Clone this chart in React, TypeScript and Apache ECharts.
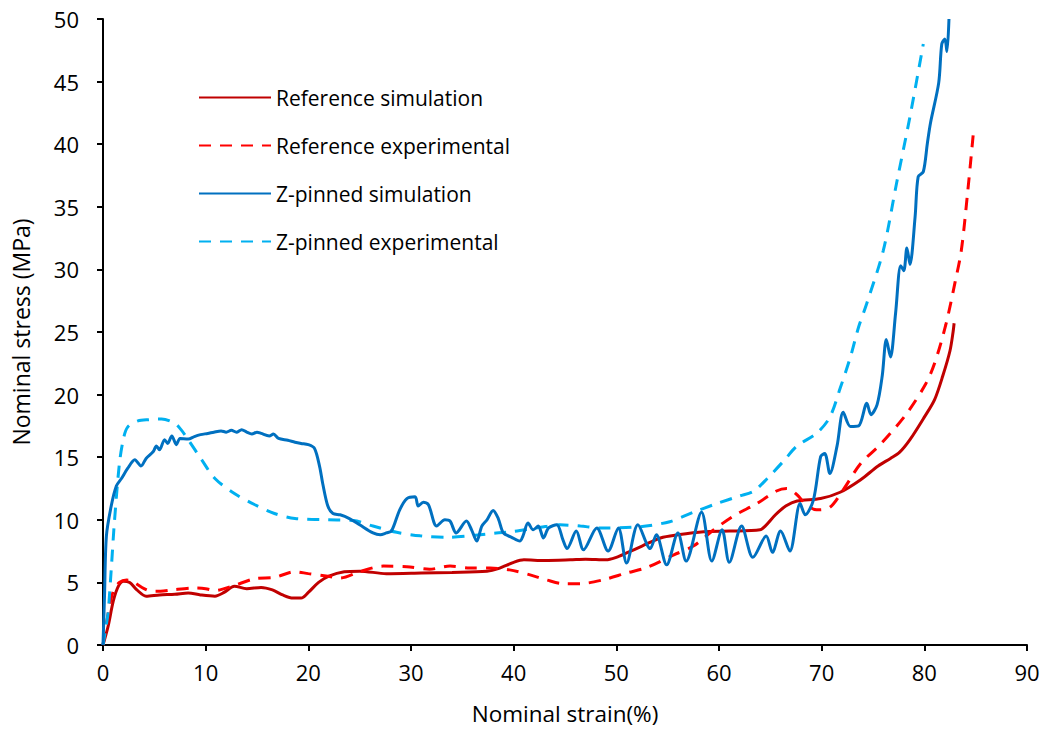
import React, { useEffect, useRef } from "react";
import * as echarts from "echarts";

const xTicks = [0, 10, 20, 30, 40, 50, 60, 70, 80, 90];
const yTicks = [0, 5, 10, 15, 20, 25, 30, 35, 40, 45, 50];

const seriesNames = [
  "Reference simulation",
  "Reference experimental",
  "Z-pinned simulation",
  "Z-pinned experimental",
];

const referenceSimulation: number[][] = [
  [0, 0], [0.5, 1.5], [1, 3.5], [1.5, 4.7], [2, 5.1], [2.6, 5.0], [3.3, 4.4], [4.2, 3.9],
  [5.5, 4.0], [7, 4.05], [8.3, 4.15], [9.5, 4.0], [10.9, 3.9], [11.8, 4.2], [12.8, 4.7],
  [14, 4.5], [15.4, 4.6], [16.5, 4.4], [17.5, 4.0], [18.5, 3.75], [19.3, 3.75], [20, 4.2],
  [21, 5.0], [22, 5.5], [23.5, 5.85], [25, 5.9], [27.6, 5.7], [31, 5.75], [34, 5.8],
  [37.4, 5.9], [38.5, 6.1], [40, 6.6], [41, 6.8], [43, 6.75], [45.5, 6.8], [47, 6.85],
  [49, 6.8], [50, 7.0], [51, 7.35], [52.5, 7.9], [54.3, 8.55], [56, 8.8], [58.5, 9.05],
  [61, 9.1], [64, 9.2], [64.5, 9.5], [65.5, 10.4], [66.5, 11.1], [67.6, 11.5], [69.9, 11.7],
  [71.8, 12.2], [73.8, 13.2], [75.5, 14.3], [76.7, 14.9], [77.6, 15.4], [78.6, 16.4],
  [80, 18.2], [81, 19.6], [81.8, 21.5], [82.5, 23.5], [82.8, 25.0], [82.9, 25.7],
];

const referenceExperimental: number[][] = [
  [0, 0], [0.5, 2.5], [1, 4.3], [1.6, 5.0], [2.3, 5.2], [3, 5.0], [4, 4.5], [4.7, 4.3],
  [5.6, 4.3], [6.7, 4.4], [8.9, 4.55], [10, 4.5], [10.9, 4.35], [11.8, 4.5], [12.8, 4.75],
  [14.8, 5.3], [16.7, 5.4], [18.7, 5.85], [20, 5.7], [21.9, 5.5], [23.1, 5.35], [25, 5.85],
  [27.3, 6.3], [29.6, 6.25], [31.8, 6.05], [33.8, 6.3], [35.7, 6.15], [37.7, 6.15],
  [39.6, 6.0], [41.6, 5.6], [43.2, 5.2], [44.8, 4.9], [46.5, 4.9], [48.7, 5.2], [51, 5.75],
  [53, 6.2], [55.6, 7.2], [57.5, 7.9], [59.5, 9.2], [61.4, 10.3], [63.7, 11.3], [65.6, 12.3],
  [66.6, 12.5], [67.6, 12.0], [68.5, 11.2], [69.5, 10.8], [70.8, 11.0], [72.1, 12.4],
  [73.8, 14.5], [75.7, 16], [78.2, 18.4], [80.1, 20.8], [81, 22.5], [82.1, 25.6], [83, 29],
  [83.6, 31.5], [84.2, 36], [84.8, 41.1],
];

const zPinnedSimulation: number[][] = [
  [0, 0], [0.15, 4], [0.33, 8.7], [0.8, 11.1], [1.3, 12.7], [1.8, 13.3], [2.4, 14.1],
  [3.1, 14.8], [3.7, 14.3], [4.2, 14.9], [4.9, 15.45], [5.2, 15.9], [5.5, 15.6], [6, 16.4],
  [6.3, 16.1], [6.7, 16.7], [7.15, 16.0], [7.5, 16.5], [8.3, 16.45], [8.9, 16.65], [9.5, 16.8],
  [10.2, 16.9], [10.8, 17.0], [11.5, 17.1], [12, 17.0], [12.5, 17.15], [13, 17.0], [13.5, 17.2],
  [14, 17.0], [14.5, 16.85], [15, 17.0], [15.4, 16.9], [16.2, 16.7], [16.6, 16.85], [17.1, 16.5],
  [18, 16.35], [18.7, 16.2], [19.3, 16.1], [20, 16.0], [20.6, 15.7], [21.1, 14.25], [21.4, 12.9],
  [21.9, 11.1], [22.4, 10.5], [23.1, 10.4], [24, 10.1], [25, 9.6], [26.3, 8.95], [27, 8.8],
  [27.6, 8.95], [28.1, 9.1], [28.9, 10.8], [29.6, 11.7], [30.4, 11.85], [30.7, 11.1],
  [31.2, 11.4], [31.7, 11.2], [32.5, 9.5], [33.3, 10.0], [33.8, 9.9], [34.4, 8.95], [35.4, 9.9],
  [35.9, 9.2], [36.4, 8.3], [36.9, 9.5], [37.4, 10.0], [38, 10.75], [38.5, 10.1], [39, 8.95],
  [39.8, 8.6], [40.6, 8.3], [40.9, 8.7], [41.4, 9.75], [41.9, 9.2], [42.4, 9.5], [42.9, 8.55],
  [43.4, 9.35], [44.2, 9.6], [44.8, 8.4], [45.2, 7.7], [46.1, 9.1], [46.8, 7.6], [48.1, 9.35],
  [49.2, 7.5], [50.2, 9.35], [51, 6.55], [52.1, 9.6], [53.3, 7.7], [53.9, 8.8], [54.9, 6.4],
  [56, 8.95], [56.8, 6.7], [58.3, 10.6], [59.3, 6.7], [60.3, 9.2], [61, 6.6], [62.2, 9.5],
  [63.3, 7.0], [64.6, 8.7], [65.2, 7.4], [66, 9.1], [66.9, 7.5], [67.9, 11.3], [68.4, 10.4],
  [69.2, 11.6], [69.9, 15.05], [70.3, 15.3], [70.8, 13.7], [71.5, 15.9], [72.1, 18.6],
  [72.8, 17.45], [73.6, 17.5], [74.4, 19.3], [74.8, 18.4], [75.4, 19.2], [75.9, 21.5],
  [76.3, 24.4], [76.7, 23.0], [77.2, 26.5], [77.7, 30.3], [78, 29.9], [78.3, 31.7], [78.6, 30.4],
  [79.1, 34.2], [79.4, 37.4], [79.9, 37.8], [80.3, 40.1], [80.6, 41.7], [81.4, 44.9],
  [81.7, 48.0], [82, 48.4], [82.2, 47.4], [82.4, 50],
];

const zPinnedExperimental: number[][] = [
  [0, 0], [0.3, 1.5], [0.5, 2.6], [0.8, 6], [1.1, 9.7], [1.6, 14.5], [2.0, 16.5], [2.4, 17.4],
  [3.4, 17.9], [4.5, 18.0], [5.7, 18.05], [7, 17.7], [7.6, 17.2], [8.3, 16.4], [9.6, 14.8],
  [10.9, 13.3], [12.8, 12.1], [14.8, 11.2], [16.7, 10.5], [18.7, 10.1], [21.9, 10.0],
  [24.4, 9.95], [26.3, 9.5], [28.6, 9.0], [30.9, 8.72], [33.5, 8.6], [35.7, 8.72], [38.3, 8.94],
  [40, 9.07], [42.6, 9.4], [44.5, 9.6], [46.5, 9.5], [48.4, 9.35], [52.3, 9.45], [55.2, 9.85],
  [57.5, 10.6], [59.8, 11.3], [62, 11.9], [63.4, 12.3], [64.7, 13.3], [66.3, 14.7], [67.6, 15.9],
  [69.5, 16.9], [70.8, 18.2], [71.8, 20.5], [72.8, 23.0], [73.6, 25.4], [74.4, 27.3], [76, 31.5],
  [77.3, 36.9], [78.6, 42.2], [79.9, 48.0],
];

const colors = ["#C00000", "#FF0000", "#0070C0", "#00B0F0"];
const FONT = "Open Sans";

export default function App() {
  const ref = useRef<HTMLDivElement>(null);
  useEffect(() => {
    if (!ref.current) return;
    const chart = echarts.init(ref.current, null, { renderer: "svg" });
    const datasets = [referenceSimulation, referenceExperimental, zPinnedSimulation, zPinnedExperimental];
    const dashed = [false, true, false, true];
    chart.setOption({
      animation: false,
      backgroundColor: "#ffffff",
      textStyle: { fontFamily: FONT },
      grid: { left: 103, right: 18, top: 19, bottom: 91, outerBoundsMode: "none" },
      legend: {
        orient: "vertical",
        left: 198,
        top: 87,
        padding: 0,
        itemWidth: 72,
        itemHeight: 21,
        itemGap: 27,
        itemStyle: { opacity: 0 },
        textStyle: { fontFamily: FONT, fontSize: 21, color: "#000", lineHeight: 21 },
        data: seriesNames,
      },
      xAxis: {
        type: "value",
        min: xTicks[0],
        max: xTicks[xTicks.length - 1],
        interval: 10,
        name: "Nominal strain(%)",
        nameLocation: "middle",
        nameGap: 57,
        nameTextStyle: { fontFamily: FONT, fontSize: 22.5, color: "#000" },
        axisLine: { lineStyle: { color: "#000", width: 2 } },
        axisTick: { show: true, inside: false, length: 6, lineStyle: { color: "#000", width: 2 } },
        axisLabel: { fontFamily: FONT, fontSize: 22, color: "#000", margin: 16 },
        splitLine: { show: false },
      },
      yAxis: {
        type: "value",
        min: yTicks[0],
        max: yTicks[yTicks.length - 1],
        interval: 5,
        name: "Nominal stress (MPa)",
        nameLocation: "middle",
        nameGap: 71,
        nameTextStyle: { fontFamily: FONT, fontSize: 23, color: "#000" },
        axisLine: { show: true, lineStyle: { color: "#000", width: 2 } },
        axisTick: { show: true, inside: false, length: 6, lineStyle: { color: "#000", width: 2 } },
        axisLabel: { fontFamily: FONT, fontSize: 22, color: "#000", margin: 24 },
        splitLine: { show: false },
      },
      series: datasets.map((d, i) => ({
        name: seriesNames[i],
        type: "line",
        data: d,
        symbol: "none",
        smooth: 0.3,
        color: colors[i],
        lineStyle: { color: colors[i], width: 3, type: dashed[i] ? [12, 9] : "solid" },
        z: i === 2 ? 3 : 2,
      })),
    });
    return () => chart.dispose();
  }, []);
  return (
    <div
      ref={ref}
      style={{ position: "fixed", left: 0, top: 0, width: 1045, height: 736, background: "#fff" }}
    />
  );
}
